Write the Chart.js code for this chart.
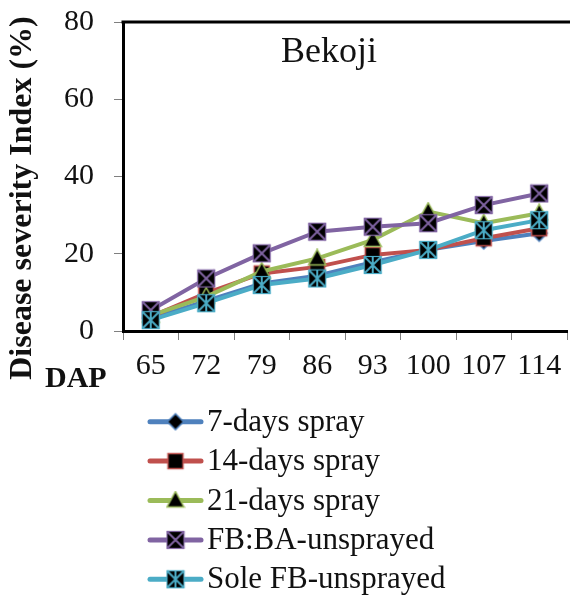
<!DOCTYPE html>
<html>
<head>
<meta charset="utf-8">
<script src="https://cdn.jsdelivr.net/npm/chart.js@4.4.0/dist/chart.umd.min.js"></script>
<style>
  html, body { margin: 0; padding: 0; background: #fff; overflow: hidden; }
  #wrap { position: relative; width: 580px; height: 597px; }
</style>
</head>
<body>
<div id="wrap"><canvas id="c"></canvas></div>
<script>
// ---- data ----
const categories = ['65', '72', '79', '86', '93', '100', '107', '114'];
const seriesNames = ['7-days spray', '14-days spray', '21-days spray', 'FB:BA-unsprayed', 'Sole FB-unsprayed'];
const spray7  = [3.2, 7.8, 12.3, 14.3, 17.8, 21.0, 23.3, 25.3];
const spray14 = [3.7, 9.8, 14.9, 16.6, 19.7, 21.0, 24.0, 26.6];
const spray21 = [4.0, 8.9, 15.4, 18.8, 23.6, 30.9, 27.9, 30.5];
const fbba    = [5.4, 13.6, 20.1, 25.7, 27.0, 27.9, 32.6, 35.6];
const solefb  = [2.8, 7.2, 11.9, 13.6, 17.1, 21.0, 26.1, 28.7];
const yTicks  = [0, 20, 40, 60, 80];
const yTitle = 'Disease severity Index (%)';
const xTitle = 'DAP';
const chartTitle = 'Bekoji';

const seriesData = [spray7, spray14, spray21, fbba, solefb];
const colors = ['#4F81BD', '#C0504D', '#9BBB59', '#8064A2', '#4BACC6'];
const SERIF = "'Liberation Serif', 'Times New Roman', serif";

// ---- marker images ----
function makeMarker(kind, color) {
  const s = 20;
  const c = document.createElement('canvas');
  c.width = s; c.height = s;
  const g = c.getContext('2d');
  const m = s / 2;
  g.fillStyle = '#000';
  g.strokeStyle = color;
  g.lineWidth = 1.5;
  if (kind === 'diamond') {
    const r = 8;
    g.beginPath();
    g.moveTo(m, m - r); g.lineTo(m + r, m); g.lineTo(m, m + r); g.lineTo(m - r, m); g.closePath();
    g.fill(); g.stroke();
  } else if (kind === 'square') {
    const r = 7.5;
    g.fillRect(m - r, m - r, 2 * r, 2 * r);
    g.lineWidth = 1.5;
    g.strokeRect(m - r, m - r, 2 * r, 2 * r);
  } else if (kind === 'triangle') {
    g.beginPath();
    g.moveTo(m, m - 9); g.lineTo(m + 8.5, m + 6.5); g.lineTo(m - 8.5, m + 6.5); g.closePath();
    g.fill(); g.stroke();
  } else if (kind === 'xsquare' || kind === 'star') {
    const r = 8.5;
    g.fillRect(m - r, m - r, 2 * r, 2 * r);
    g.lineWidth = 1.2;
    g.strokeRect(m - r, m - r, 2 * r, 2 * r);
    g.lineWidth = 2;
    g.beginPath();
    g.moveTo(m - r, m - r); g.lineTo(m + r, m + r);
    g.moveTo(m + r, m - r); g.lineTo(m - r, m + r);
    if (kind === 'star') { g.moveTo(m, m - r); g.lineTo(m, m + r); }
    g.stroke();
  }
  return c;
}
const markerKinds = ['diamond', 'square', 'triangle', 'xsquare', 'star'];
const markers = markerKinds.map((k, i) => makeMarker(k, colors[i]));

const datasets = seriesData.map((d, i) => ({
  label: seriesNames[i],
  data: d,
  borderColor: colors[i],
  backgroundColor: colors[i],
  borderWidth: 4,
  pointStyle: markers[i],
  pointRadius: 9,
  tension: 0,
  order: 4 - i
}));

// ---- custom text / legend / frame plugin ----
const decor = {
  id: 'decor',
  afterDraw(chart) {
    const ctx = chart.ctx;
    const a = chart.chartArea;
    ctx.save();
    // top frame line
    ctx.strokeStyle = '#000';
    ctx.lineWidth = 3;
    ctx.beginPath();
    ctx.moveTo(a.left - 1.5, a.top);
    ctx.lineTo(chart.width, a.top);
    ctx.stroke();
    // chart title
    ctx.fillStyle = '#111';
    ctx.font = '36px ' + SERIF;
    ctx.textAlign = 'center';
    ctx.textBaseline = 'alphabetic';
    ctx.fillText(chartTitle, 329, 62);
    // y title
    ctx.save();
    ctx.translate(23, 198);
    ctx.rotate(-Math.PI / 2);
    ctx.font = 'bold 32px ' + SERIF;
    ctx.textBaseline = 'middle';
    ctx.textAlign = 'center';
    ctx.fillText(yTitle, 0, 0);
    ctx.restore();
    // x title
    ctx.font = 'bold 30px ' + SERIF;
    ctx.textAlign = 'left';
    ctx.textBaseline = 'middle';
    ctx.fillText(xTitle, 45, 379);
    // legend
    const ly0 = 421.7, ldy = 39.4;
    ctx.font = '31px ' + SERIF;
    seriesNames.forEach((name, i) => {
      const y = ly0 + i * ldy;
      ctx.strokeStyle = colors[i];
      ctx.lineWidth = 5;
      ctx.lineCap = 'round';
      ctx.beginPath();
      ctx.moveTo(150, y); ctx.lineTo(201, y);
      ctx.stroke();
      const mk = markers[i];
      ctx.drawImage(mk, 175.5 - mk.width / 2, y - mk.height / 2);
      ctx.fillStyle = '#111';
      ctx.textAlign = 'left';
      ctx.textBaseline = 'middle';
      ctx.fillText(name, 207, y + 1);
    });
    ctx.restore();
  }
};

new Chart(document.getElementById('c'), {
  type: 'line',
  data: { labels: categories, datasets },
  options: {
    responsive: true,
    maintainAspectRatio: false,
    animation: false,
    events: [],
    layout: { padding: { left: 0, top: 22, right: 4, bottom: 200 } },
    plugins: { legend: { display: false }, tooltip: { enabled: false }, title: { display: false } },
    scales: {
      x: {
        offset: true,
        afterFit: s => { s.height = 66; s.paddingLeft = 0; s.paddingRight = 0; },
        grid: { offset: true, drawOnChartArea: false, drawTicks: true, tickLength: 9, color: '#7f7f7f', lineWidth: 1 },
        border: { display: true, color: '#000', width: 3 },
        ticks: { color: '#111', font: { family: SERIF, size: 30 }, padding: 8, maxRotation: 0, autoSkip: false }
      },
      y: {
        min: 0, max: 80,
        afterFit: s => { s.width = 123; s.paddingTop = 0; s.paddingBottom = 0; },
        afterBuildTicks: s => { s.ticks = yTicks.map(v => ({ value: v })); },
        grid: { drawOnChartArea: false, drawTicks: true, tickLength: 9, color: '#7f7f7f', lineWidth: 1 },
        border: { display: true, color: '#000', width: 3 },
        ticks: { color: '#111', font: { family: SERIF, size: 30 }, padding: 20 }
      }
    }
  },
  plugins: [decor]
});
</script>
</body>
</html>
